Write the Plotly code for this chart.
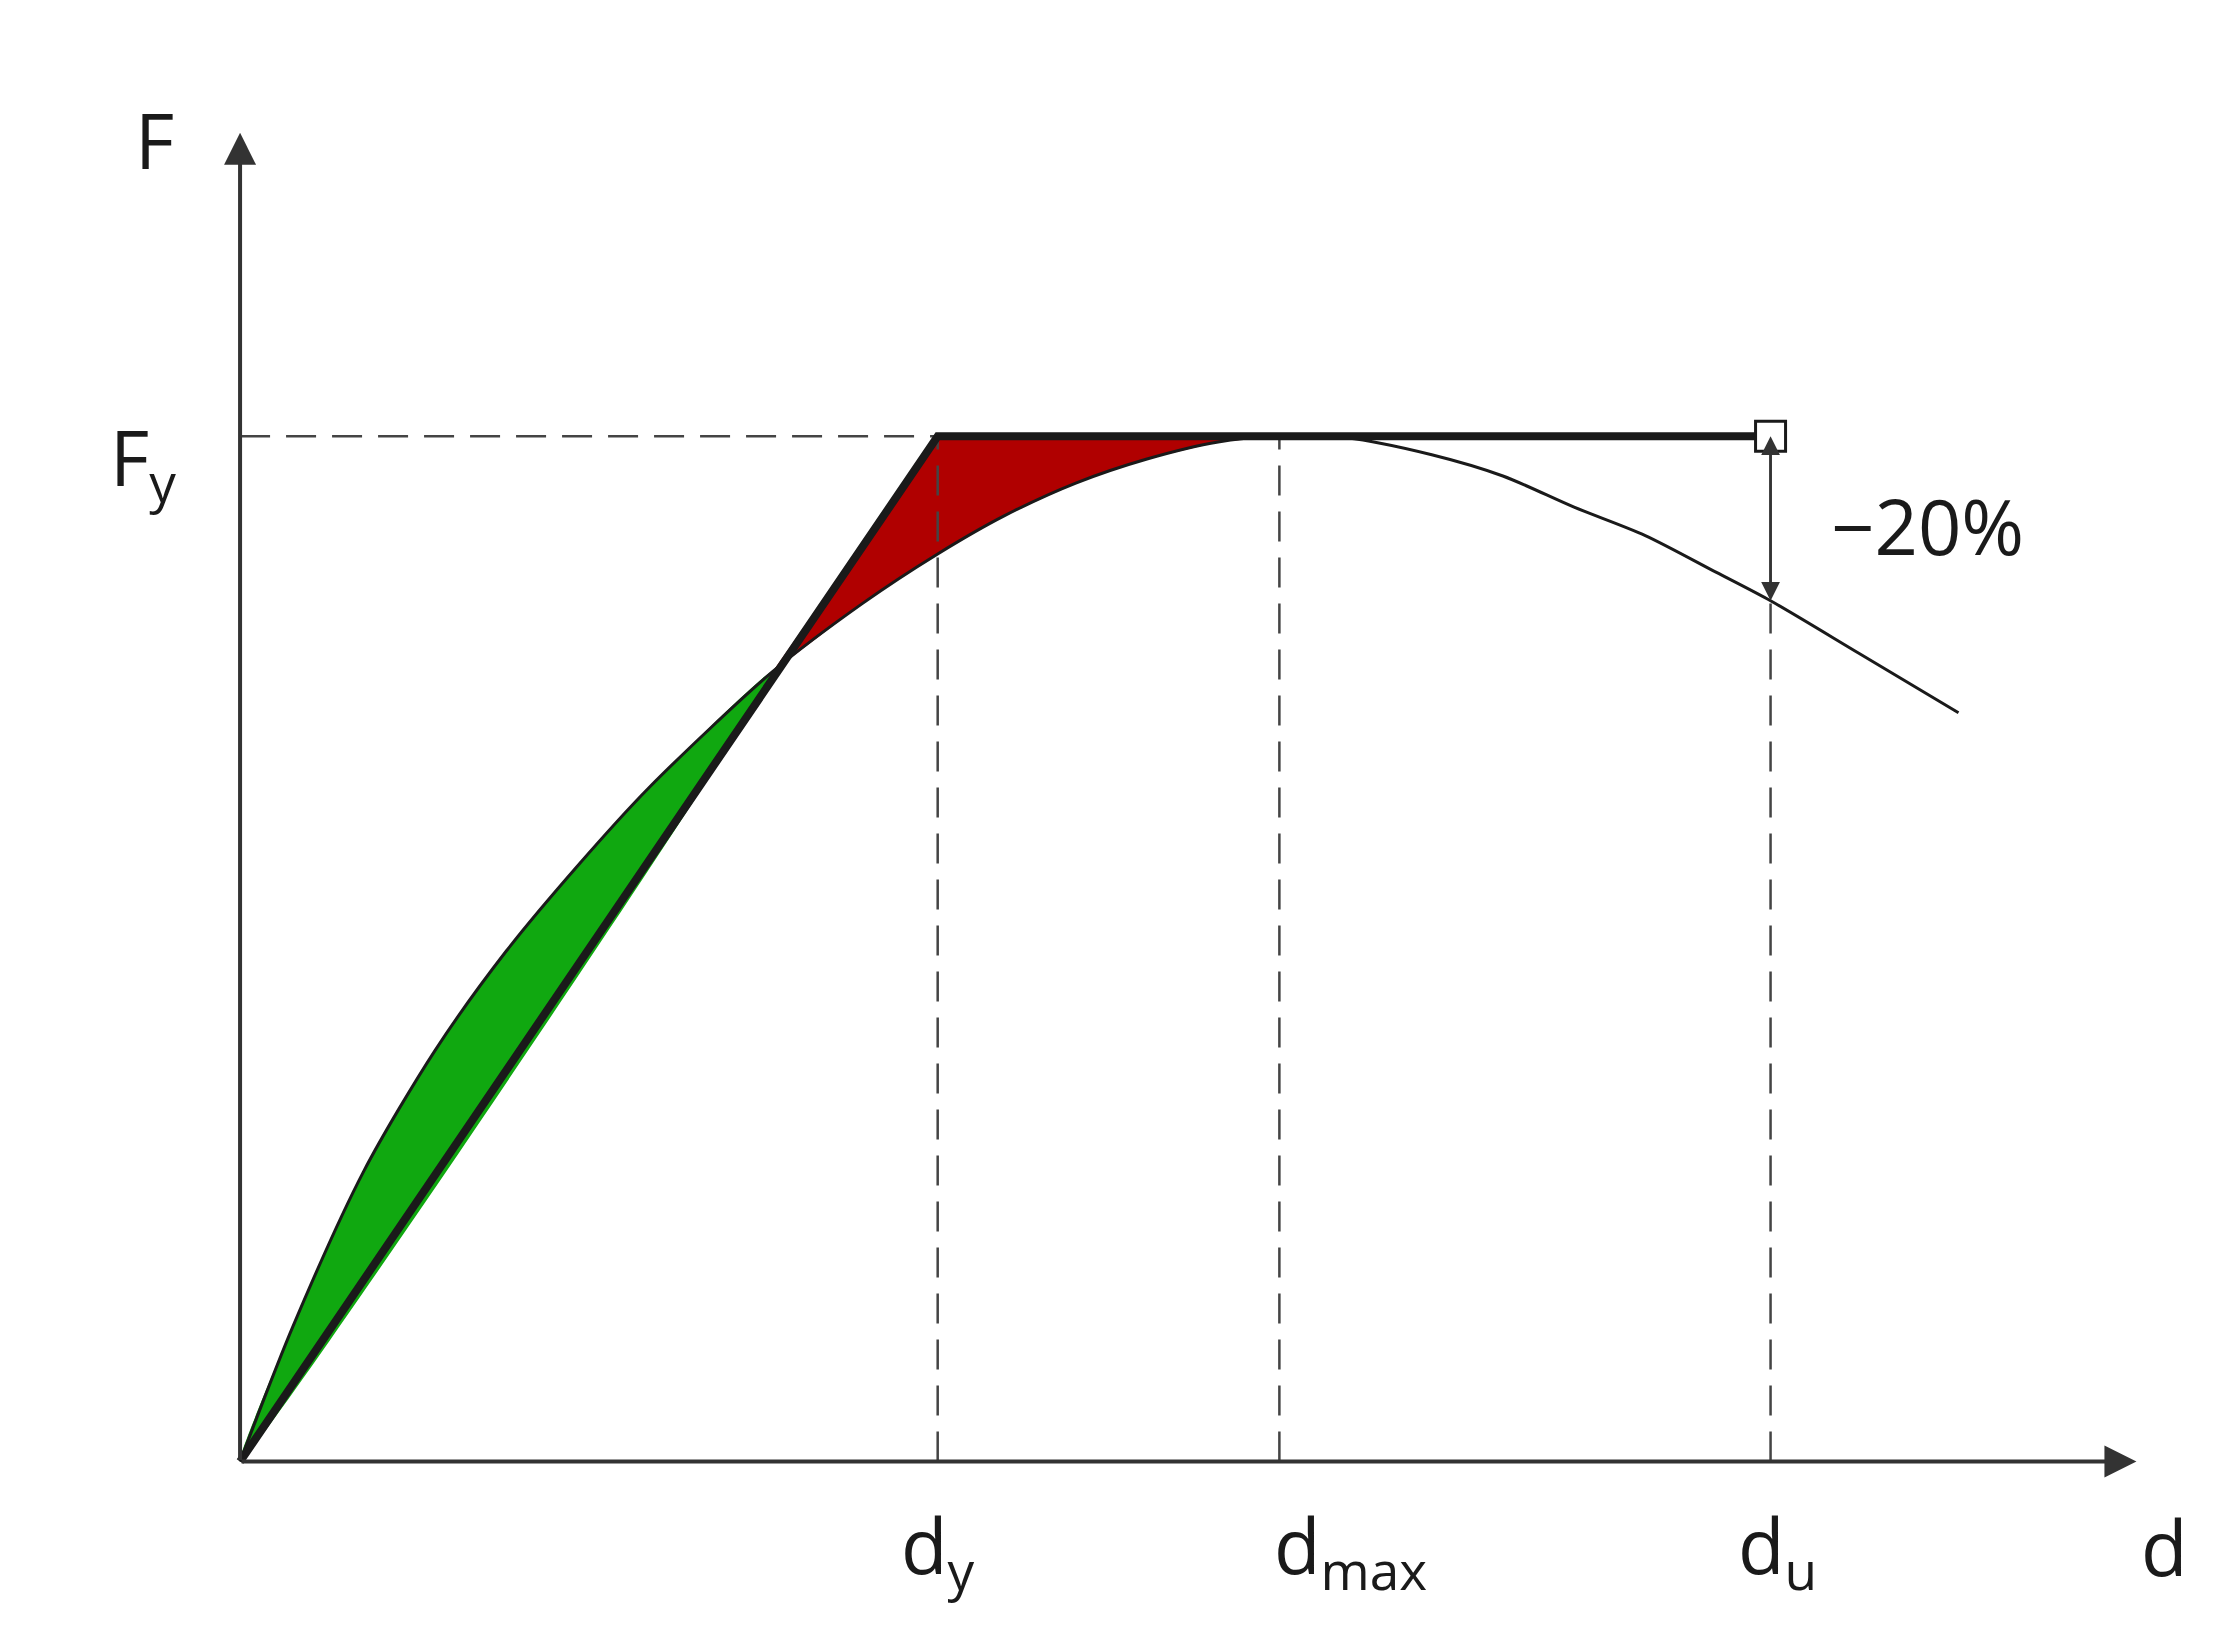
import plotly.graph_objects as go

# capacity curve
curve_x = [0, 0.37, 0.87, 1.37, 1.87, 2.37, 2.87, 3.74, 4.37, 4.9, 5.37, 5.87, 6.37,
           6.87, 7.3, 7.77, 8.37, 8.87, 9.37, 9.87, 10.37, 10.75, 11.37, 12.07]
curve_y = [0, 0.95, 2.05, 2.90, 3.60, 4.20, 4.75, 5.57, 6.05, 6.40, 6.67, 6.90, 7.07,
           7.19, 7.23, 7.22, 7.10, 6.95, 6.73, 6.53, 6.27, 6.07, 5.70, 5.28]

# bilinear idealisation
dy, dmax, du, Fy = 4.9, 7.3, 10.75, 7.23
bil_x = [0, dy, du]
bil_y = [0, Fy, Fy]
cross = 7  # index of the crossing point in the curve arrays
F_du = curve_y[21]

fig = go.Figure()

# green area: curve above the elastic line
gx = curve_x[:cross + 1] + [0]
gy = curve_y[:cross + 1] + [0]
fig.add_trace(go.Scatter(x=gx, y=gy, fill='toself', fillcolor='#10a810',
                         line=dict(width=0, shape='spline', smoothing=0.6), mode='lines'))
# red area: bilinear above the curve up to dmax
rx = curve_x[cross:15] + [dmax, dy, curve_x[cross]]
ry = curve_y[cross:15] + [Fy, Fy, curve_y[cross]]
fig.add_trace(go.Scatter(x=rx, y=ry, fill='toself', fillcolor='#b00000',
                         line=dict(width=0), mode='lines'))

dash = dict(color='#444', width=2.5, dash='30px,16px')
fig.add_trace(go.Scatter(x=[0, dy], y=[Fy, Fy], mode='lines', line=dash))
for xv, ytop in [(dy, Fy), (dmax, Fy), (du, F_du)]:
    fig.add_trace(go.Scatter(x=[xv, xv], y=[0, ytop], mode='lines', line=dash))

fig.add_trace(go.Scatter(x=curve_x, y=curve_y, mode='lines',
                         line=dict(color='#1a1a1a', width=3, shape='spline', smoothing=0.8)))
fig.add_trace(go.Scatter(x=bil_x, y=bil_y, mode='lines',
                         line=dict(color='#1a1a1a', width=8)))
fig.add_trace(go.Scatter(x=[du], y=[Fy], mode='markers',
                         marker=dict(symbol='square', size=30, color='white',
                                     line=dict(color='#1a1a1a', width=3))))

ann = []
# axes with arrows
for tx, ty in [(13.32, 0), (0, 9.37)]:
    ann.append(dict(x=tx, y=ty, ax=0, ay=0, xref='x', yref='y', axref='x', ayref='y',
                    showarrow=True, arrowhead=2, arrowsize=1.6, arrowwidth=4,
                    arrowcolor='#333', text=''))
# -20% double arrow
for y0, y1 in [(Fy - 0.1, F_du), (F_du + 0.1, Fy)]:
    ann.append(dict(x=du, y=y1, ax=du, ay=y0, xref='x', yref='y', axref='x', ayref='y',
                    showarrow=True, arrowhead=2, arrowsize=1.5, arrowwidth=2.5,
                    arrowcolor='#333', text=''))

font = dict(family='Open Sans', size=76, color='#1a1a1a')
labels = [(-0.6, 9.32, 'F'), (-0.68, 7.05, 'F<sub>y</sub>'),
          (dy, -0.62, 'd<sub>y</sub>'), (dmax + 0.5, -0.62, 'd<sub>max</sub>'),
          (du + 0.05, -0.62, 'd<sub>u</sub>'), (13.52, -0.6, 'd'),
          (11.85, 6.6, '−20%')]
for x, y, t in labels:
    ann.append(dict(x=x, y=y, xref='x', yref='y', text=t, showarrow=False, font=font))

fig.update_layout(
    width=2221, height=1645, margin=dict(l=0, r=0, t=0, b=0),
    plot_bgcolor='white', paper_bgcolor='white', showlegend=False,
    annotations=ann,
    xaxis=dict(range=[-1.63, 13.97], visible=False),
    yaxis=dict(range=[-1.35, 10.25], visible=False),
)

fig.write_html("out.html")
